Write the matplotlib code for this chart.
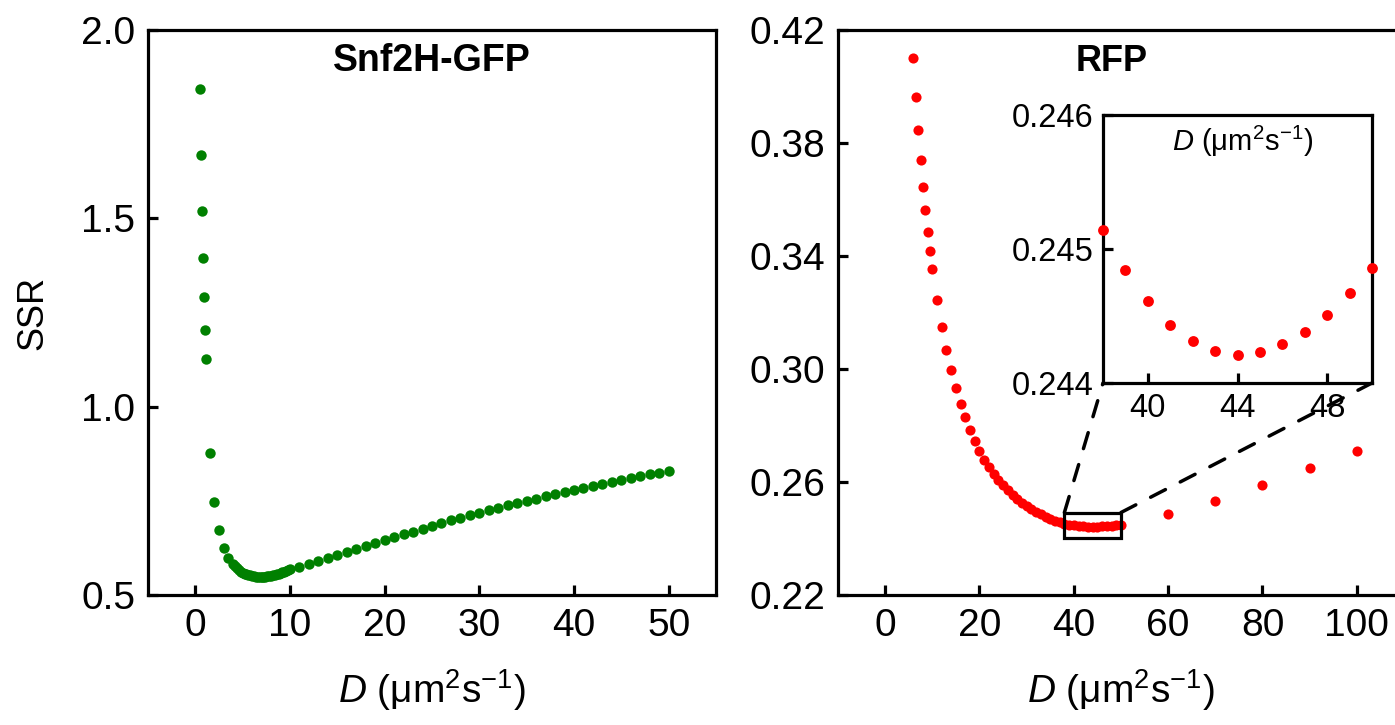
import matplotlib
matplotlib.use("Agg")
import matplotlib.pyplot as plt
import numpy as np
from matplotlib.patches import Rectangle, ConnectionPatch

plt.rcParams['font.family'] = ['Liberation Sans', 'DejaVu Sans']
plt.rcParams['mathtext.fontset'] = 'custom'
plt.rcParams['mathtext.rm'] = 'Liberation Sans'
plt.rcParams['mathtext.it'] = 'Liberation Sans:italic'
plt.rcParams['mathtext.bf'] = 'Liberation Sans:bold'

# ---- Snf2H-GFP: SSR versus trial diffusion coefficient ----
snf_D = [0.5, 0.6, 0.7, 0.8, 0.9, 1.0, 1.1, 1.5, 2.0, 2.5, 3.0, 3.5,
         4.0, 4.2, 4.4, 4.6, 4.8, 5.0, 5.2, 5.4, 5.6, 5.8, 6.0, 6.2, 6.4,
         6.6, 6.8, 7.0, 7.2, 7.4, 7.6, 7.8, 8.0, 8.2, 8.4, 8.6, 8.8, 9.0,
         9.2, 9.4, 9.6, 9.8, 10.0,
         11, 12, 13, 14, 15, 16, 17, 18, 19, 20, 21, 22, 23, 24, 25, 26,
         27, 28, 29, 30, 31, 32, 33, 34, 35, 36, 37, 38, 39, 40, 41, 42,
         43, 44, 45, 46, 47, 48, 49, 50]
snf_SSR = [1.844, 1.667, 1.520, 1.396, 1.291, 1.203, 1.127, 0.878, 0.747,
           0.672, 0.626, 0.597,
           0.582, 0.576, 0.571, 0.566, 0.562, 0.559, 0.557, 0.555, 0.553,
           0.552, 0.551, 0.550, 0.549, 0.549, 0.549, 0.549, 0.549, 0.549,
           0.550, 0.550, 0.551, 0.552, 0.553, 0.555, 0.556, 0.558, 0.560,
           0.562, 0.564, 0.566, 0.568,
           0.575, 0.582, 0.590, 0.597, 0.605, 0.614, 0.622, 0.630, 0.638,
           0.646, 0.653, 0.661, 0.668, 0.676, 0.683, 0.691, 0.698, 0.705,
           0.712, 0.719, 0.725, 0.731, 0.738, 0.743, 0.750, 0.756, 0.762,
           0.767, 0.773, 0.780, 0.785, 0.790, 0.795, 0.801, 0.805, 0.810,
           0.816, 0.821, 0.825, 0.829]

# ---- RFP: SSR versus trial diffusion coefficient ----
rfp_D = [6.0, 6.5, 7.0, 7.5, 8.0, 8.5, 9.0, 9.5, 10.0,
         11, 12, 13, 14, 15, 16, 17, 18, 19, 20, 21, 22, 23, 24, 25, 26,
         27, 28, 29, 30, 31, 32, 33, 34, 35, 36, 37, 38, 39, 40, 41, 42,
         43, 44, 45, 46, 47, 48, 49, 50, 60, 70, 80, 90, 100]
rfp_SSR = [0.4100, 0.3964, 0.3847, 0.3741, 0.3646, 0.3562, 0.3486, 0.3418,
           0.3354,
           0.3245, 0.3149, 0.3066, 0.2996, 0.2931, 0.2877, 0.2830, 0.2784,
           0.2745, 0.2708, 0.2678, 0.2652, 0.2628, 0.2607, 0.2588, 0.2570,
           0.2554, 0.2540, 0.2527, 0.2515, 0.2504, 0.2494, 0.2485, 0.2477,
           0.2470, 0.2463, 0.2457,
           0.24514, 0.24484, 0.24461, 0.24443, 0.24431, 0.24424, 0.24421,
           0.24423, 0.24429, 0.24438, 0.24451, 0.24467, 0.24486,
           0.2485, 0.2533, 0.2588, 0.2648, 0.2709]

snf_xticks = [0, 10, 20, 30, 40, 50]
snf_yticks = [0.5, 1.0, 1.5, 2.0]
rfp_xticks = [0, 20, 40, 60, 80, 100]
rfp_yticks = [0.22, 0.26, 0.30, 0.34, 0.38, 0.42]
zoom_xticks = [40, 44, 48]
zoom_yticks = [0.244, 0.245, 0.246]
zoom_window = (38, 50, 0.244, 0.246)      # D range and SSR range of the inset
zoom_box = (38, 50, 0.2403, 0.2492)       # rectangle marked on the RFP curve

GREEN = '#008000'
RED = '#ff0000'
LW = 2.3
xlabel = r'$\mathit{D}$ (μm$^{2}$s$^{-1}$)'


def style(ax, labelsize, pad_x, pad_y):
    for s in ax.spines.values():
        s.set_linewidth(LW)
    ax.tick_params(direction='in', length=7.5, width=LW, labelsize=labelsize,
                   top=False, right=False)
    ax.tick_params(axis='x', pad=pad_x)
    ax.tick_params(axis='y', pad=pad_y)


fig = plt.figure(figsize=(13.95, 7.25), dpi=100)

# left panel
ax1 = fig.add_axes([148 / 1395, 1 - 595 / 725, 568 / 1395, 565 / 725])
ax1.plot(snf_D, snf_SSR, 'o', color=GREEN, ms=7.5, mew=0, zorder=3)
ax1.set_xlim(-5, 55)
ax1.set_ylim(0.5, 2.0)
ax1.set_xticks(snf_xticks)
ax1.set_yticks(snf_yticks)
ax1.set_yticklabels([f'{v:.1f}' for v in snf_yticks])
style(ax1, 28, 9, 9)
ax1.set_xlabel(xlabel, fontsize=28, labelpad=17)
ax1.set_ylabel('SSR', fontsize=26, labelpad=22)
ax1.text(0.5, 0.945, 'Snf2H-GFP', transform=ax1.transAxes, ha='center',
         va='center', fontsize=27, fontweight='bold')

# right panel
ax2 = fig.add_axes([838 / 1395, 1 - 595 / 725, 566 / 1395, 565 / 725])
ax2.plot(rfp_D, rfp_SSR, 'o', color=RED, ms=7.3, mew=0, zorder=3)
ax2.set_xlim(-10, 110)
ax2.set_ylim(0.22, 0.42)
ax2.set_xticks(rfp_xticks)
ax2.set_yticks(rfp_yticks)
ax2.set_yticklabels([f'{v:.2f}' for v in rfp_yticks])
style(ax2, 28, 9, 9)
ax2.set_xlabel(xlabel, fontsize=28, labelpad=17)
ax2.text(0.484, 0.945, 'RFP', transform=ax2.transAxes, ha='center',
         va='center', fontsize=26, fontweight='bold')

bx0, bx1, by0, by1 = zoom_box
ax2.add_patch(Rectangle((bx0, by0), bx1 - bx0, by1 - by0, fill=False,
                        ec='black', lw=LW, zorder=4))

# inset with the minimum region
ax3 = fig.add_axes([1103 / 1395, 1 - 383 / 725, 269 / 1395, 268 / 725])
D = np.asarray(rfp_D)
S = np.asarray(rfp_SSR)
sel = (D >= zoom_window[0]) & (D <= zoom_window[1])
ax3.plot(D[sel], S[sel], 'o', color=RED, ms=7.8, mew=0, clip_on=False,
         zorder=3)
ax3.set_xlim(zoom_window[0], zoom_window[1])
ax3.set_ylim(zoom_window[2], zoom_window[3])
ax3.set_xticks(zoom_xticks)
ax3.set_yticks(zoom_yticks)
ax3.set_yticklabels([f'{v:.3f}' for v in zoom_yticks])
style(ax3, 23.5, 7, 7)
ax3.text(0.52, 0.9, xlabel, transform=ax3.transAxes, ha='center',
         va='center', fontsize=21)

# dashed connectors from the marked box to the inset corners
for (xa, ya), (xb, yb) in [((bx0, by1), (0, 0)), ((bx1, by1), (1, 0))]:
    con = ConnectionPatch(xyA=(xa, ya), coordsA=ax2.transData,
                          xyB=(xb, yb), coordsB=ax3.transAxes,
                          color='black', lw=2.5, linestyle=(0, (4.8, 4.8)))
    fig.add_artist(con)

fig.savefig('out.png', dpi=100)
